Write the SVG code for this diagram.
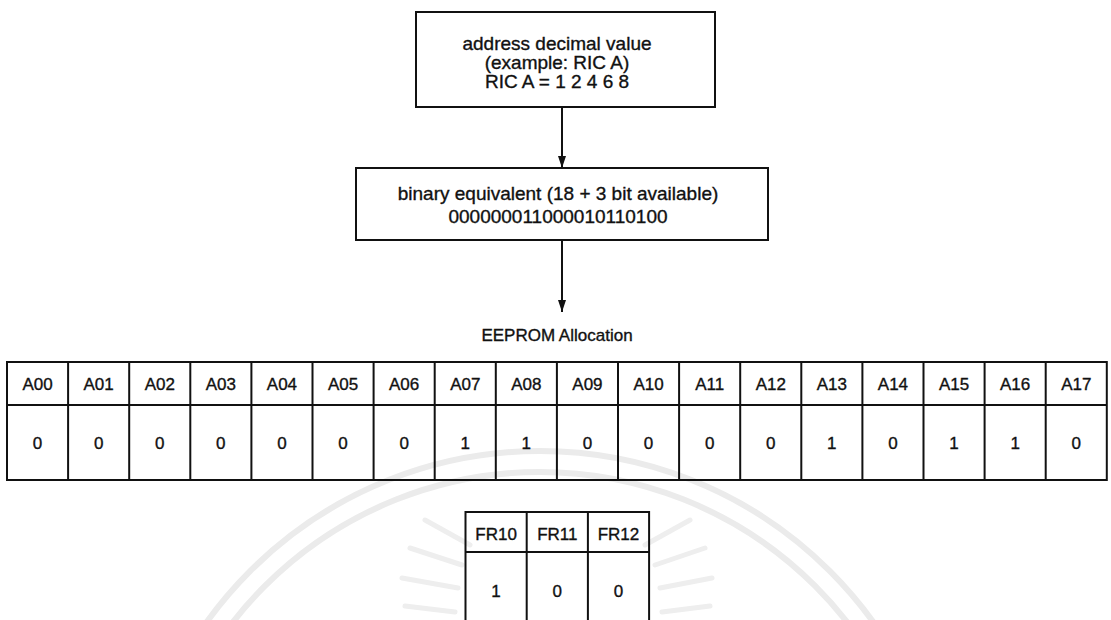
<svg xmlns="http://www.w3.org/2000/svg" width="1111" height="620" viewBox="0 0 1111 620">
<style>
.t{font-family:"Liberation Sans",Arial,Helvetica,sans-serif;fill:#111;stroke:#111;stroke-width:0.35;text-anchor:middle}
.b{font-size:19px}
.c{font-size:17px}
.box{fill:none;stroke:#111;stroke-width:2}
.grid{fill:none;stroke:#111;stroke-width:2}
.wm{fill:none;stroke:#ebebeb;stroke-width:6}
.wr{fill:none;stroke:#eeeeee;stroke-width:5;stroke-linecap:round}
.conn{stroke:#111;stroke-width:2;fill:none}
</style>
<defs>
<marker id="ah" viewBox="0 0 12 8" refX="12" refY="4" markerWidth="12" markerHeight="8" markerUnits="userSpaceOnUse" orient="auto">
<path d="M0,0 L12,4 L0,8 Z" fill="#111"/>
</marker>
</defs>
<rect width="1111" height="620" fill="#fff"/>
<g id="watermark">
<circle class="wm" cx="540" cy="861" r="410"/>
<circle class="wm" cx="540" cy="861" r="389"/>
<path class="wr" d="M425,520 L470,545 M410,548 L462,565 M402,578 L458,588 M405,606 L455,612"/>
<path class="wr" d="M690,520 L645,545 M705,548 L655,565 M712,578 L660,588 M710,606 L662,612"/>
</g>
<g id="connectors">
<line class="conn" x1="562" y1="107" x2="562" y2="168" marker-end="url(#ah)"/>
<line class="conn" x1="562" y1="240" x2="562" y2="312" marker-end="url(#ah)"/>
</g>
<g id="node-address">
<rect class="box" x="416" y="12" width="299" height="95"/>
<text class="t b" x="557" y="50">address decimal value</text>
<text class="t b" x="557" y="69">(example: RIC A)</text>
<text class="t b" x="557" y="88">RIC A = 1 2 4 6 8</text>
</g>
<g id="node-binary">
<rect class="box" x="356" y="168" width="412" height="72"/>
<text class="t b" x="558" y="200">binary equivalent (18 + 3 bit available)</text>
<text class="t b" x="558" y="223">000000011000010110100</text>
</g>
<g id="label-eeprom">
<text class="t c" x="557" y="341">EEPROM Allocation</text>
</g>
<g id="table-address">
<rect class="grid" x="7" y="362" width="1099.8" height="118"/>
<line class="grid" x1="7" y1="405" x2="1106.8" y2="405"/>
<path class="grid" d="M68.1,362V480 M129.2,362V480 M190.3,362V480 M251.4,362V480 M312.5,362V480 M373.6,362V480 M434.7,362V480 M495.8,362V480 M556.9,362V480 M618,362V480 M679.1,362V480 M740.2,362V480 M801.3,362V480 M862.4,362V480 M923.5,362V480 M984.6,362V480 M1045.7,362V480"/>
<g class="t c">
<text x="37.55" y="390">A00</text><text x="98.65" y="390">A01</text><text x="159.75" y="390">A02</text><text x="220.85" y="390">A03</text><text x="281.95" y="390">A04</text><text x="343.05" y="390">A05</text><text x="404.15" y="390">A06</text><text x="465.25" y="390">A07</text><text x="526.35" y="390">A08</text><text x="587.45" y="390">A09</text><text x="648.55" y="390">A10</text><text x="709.65" y="390">A11</text><text x="770.75" y="390">A12</text><text x="831.85" y="390">A13</text><text x="892.95" y="390">A14</text><text x="954.05" y="390">A15</text><text x="1015.15" y="390">A16</text><text x="1076.25" y="390">A17</text>
<text x="37.55" y="449">0</text><text x="98.65" y="449">0</text><text x="159.75" y="449">0</text><text x="220.85" y="449">0</text><text x="281.95" y="449">0</text><text x="343.05" y="449">0</text><text x="404.15" y="449">0</text><text x="465.25" y="449">1</text><text x="526.35" y="449">1</text><text x="587.45" y="449">0</text><text x="648.55" y="449">0</text><text x="709.65" y="449">0</text><text x="770.75" y="449">0</text><text x="831.85" y="449">1</text><text x="892.95" y="449">0</text><text x="954.05" y="449">1</text><text x="1015.15" y="449">1</text><text x="1076.25" y="449">0</text>
</g>
</g>
<g id="table-fr">
<rect class="grid" x="465.5" y="512" width="183.6" height="115"/>
<line class="grid" x1="465.5" y1="552" x2="649.1" y2="552"/>
<path class="grid" d="M526.7,512V627 M587.9,512V627"/>
<g class="t c">
<text x="496.1" y="540">FR10</text><text x="557.3" y="540">FR11</text><text x="618.5" y="540">FR12</text>
<text x="496.1" y="597">1</text><text x="557.3" y="597">0</text><text x="618.5" y="597">0</text>
</g>
</g>
</svg>
